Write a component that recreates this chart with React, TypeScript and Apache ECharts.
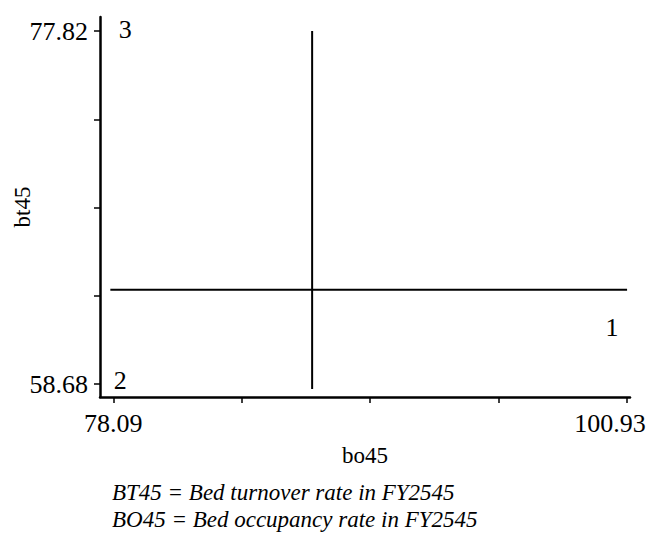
import React, { useEffect, useRef } from "react";
import * as echarts from "echarts";

// Axis data ranges (min / max labelled values)
const bo45Range = [78.09, 100.93];
const bt45Range = [58.68, 77.82];
// Tick positions (four equal intervals between min and max)
const bo45Ticks = [78.09, 83.8, 89.51, 95.22, 100.93];
const bt45Ticks = [58.68, 63.465, 68.25, 73.035, 77.82];
// Reference (mean) lines
const hLineX = [77.96, 100.93];
const hLineY = [63.8, 63.8];
const vLineX = [86.93, 86.93];
const vLineY = [58.41, 77.82];
// Quadrant labels
const quadLabels = ["1", "2", "3"];
const quadX = [100.26, 78.4, 78.62];
const quadY = [61.77, 58.9, 77.88];
// Footnotes
const notes = [
  "BT45 = Bed turnover rate in FY2545",
  "BO45 = Bed occupancy rate in FY2545",
];

const SERIF = "'Liberation Serif', 'DejaVu Serif', serif";

export default function App() {
  const ref = useRef<HTMLDivElement>(null);
  useEffect(() => {
    if (!ref.current) return;
    const chart = echarts.init(ref.current, null, { renderer: "svg" });
    const axisCommon = {
      type: "value",
      nameLocation: "middle",
      nameMoveOverlap: false,
      nameTextStyle: { fontFamily: SERIF, fontSize: 23, color: "#000" },
      axisLine: { show: true, lineStyle: { color: "#000", width: 2.5 } },
      splitLine: { show: false },
    };
    chart.setOption({
      animation: false,
      backgroundColor: "#fff",
      grid: {
        left: 100,
        right: 18,
        top: 17,
        bottom: 146,
        containLabel: false,
        outerBoundsMode: "none",
      },
      xAxis: {
        ...axisCommon,
        name: "bo45",
        nameGap: 47,
        min: 77.5,
        max: 101.06,
        axisTick: {
          show: true,
          customValues: bo45Ticks,
          length: 6,
          lineStyle: { color: "#000", width: 1.5 },
        },
        axisLabel: {
          customValues: bo45Range,
          margin: 13,
          fontFamily: SERIF,
          fontSize: 26,
          color: "#000",
          formatter: (v: number) =>
            Math.abs(v - bo45Range[1]) < 1e-6
              ? "{r|" + v.toFixed(2) + "}"
              : v.toFixed(2),
          rich: {
            r: {
              fontFamily: SERIF,
              fontSize: 26,
              color: "#000",
              padding: [0, 34, 0, 0],
            },
          },
        },
      },
      yAxis: {
        ...axisCommon,
        name: "bt45",
        nameGap: 66,
        min: 57.98,
        max: 78.58,
        axisTick: {
          show: true,
          customValues: bt45Ticks,
          length: 6,
          lineStyle: { color: "#000", width: 1.5 },
        },
        axisLabel: {
          customValues: bt45Range,
          margin: 12,
          fontFamily: SERIF,
          fontSize: 26,
          color: "#000",
          formatter: (v: number) => v.toFixed(2),
        },
      },
      series: [
        {
          type: "line",
          data: hLineX.map((x, i) => [x, hLineY[i]]),
          symbol: "none",
          lineStyle: { color: "#000", width: 2 },
          silent: true,
        },
        {
          type: "line",
          data: vLineX.map((x, i) => [x, vLineY[i]]),
          symbol: "none",
          lineStyle: { color: "#000", width: 2 },
          silent: true,
        },
        {
          type: "scatter",
          data: quadLabels.map((t, i) => ({ value: [quadX[i], quadY[i]], name: t })),
          symbolSize: 0,
          itemStyle: { opacity: 1 },
          label: {
            show: true,
            position: "inside",
            formatter: (p: any) => p.name,
            fontFamily: SERIF,
            fontSize: 26,
            color: "#000",
            opacity: 1,
          },
          silent: true,
        },
      ],
      graphic: notes.map((t, i) => ({
        type: "text",
        left: 112,
        top: 481 + i * 27,
        style: {
          text: t,
          fontFamily: SERIF,
          fontStyle: "italic",
          fontSize: 23,
          fill: "#000",
        },
      })),
    });
    return () => chart.dispose();
  }, []);
  return (
    <div
      ref={ref}
      style={{ position: "fixed", left: 0, top: 0, width: 648, height: 543 }}
    />
  );
}
